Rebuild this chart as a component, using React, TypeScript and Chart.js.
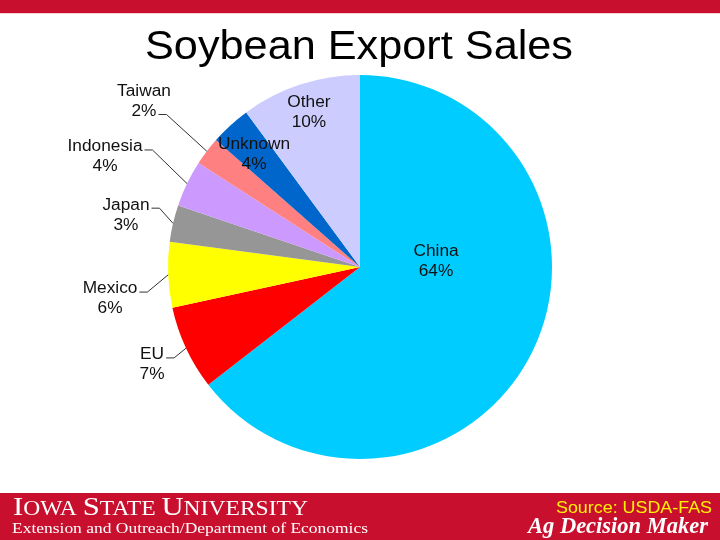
import React, { useEffect, useRef } from "react";
import { Chart, registerables } from "chart.js";

Chart.register(...registerables);

// ---- data ----
const categories = ["China", "EU", "Mexico", "Japan", "Indonesia", "Taiwan", "Unknown", "Other"];
const shares = [64.5, 7.1, 5.5, 3.1, 3.9, 2.4, 3.4, 10.1];
const pctLabels = ["64%", "7%", "6%", "3%", "4%", "2%", "4%", "10%"];
const colors = ["#00CCFF", "#FF0000", "#FFFF00", "#969696", "#CC99FF", "#FF8080", "#0066CC", "#CCCCFF"];

// ---- label layout (style): block centre offset from pie centre, in radius units ----
const labelOffsets: [number, number][] = [
  [0.396, -0.026],
  [-1.083, 0.51],
  [-1.302, 0.167],
  [-1.219, -0.27],
  [-1.328, -0.573],
  [-1.125, -0.862],
  [-0.552, -0.588],
  [-0.266, -0.802],
];
// which text line the leader line attaches to (null = no leader)
const leaderLine: (number | null)[] = [null, 0, 0, 0, 0, 1, null, null];

const RED = "#C8102E";
const STRETCH = 1.08;

function drawFitted(ctx: CanvasRenderingContext2D, text: string, x: number, y: number, width: number, align: "left" | "right" | "center") {
  const w = ctx.measureText(text).width;
  const s = width / w;
  ctx.save();
  ctx.translate(x, y);
  ctx.scale(s, 1);
  ctx.textAlign = "left";
  const ox = align === "right" ? -w : align === "center" ? -w / 2 : 0;
  ctx.fillText(text, ox, 0);
  ctx.restore();
}

function drawStretched(ctx: CanvasRenderingContext2D, text: string, cx: number, cy: number) {
  ctx.save();
  ctx.translate(cx, cy);
  ctx.scale(STRETCH, 1);
  ctx.textAlign = "center";
  ctx.textBaseline = "middle";
  ctx.fillText(text, 0, 0);
  ctx.restore();
}

const slidePlugin = {
  id: "slide",
  beforeDraw(chart: any) {
    const ctx = chart.ctx as CanvasRenderingContext2D;
    const W = chart.width;
    const H = chart.height;
    ctx.save();
    ctx.fillStyle = "#ffffff";
    ctx.fillRect(0, 0, W, H);
    ctx.fillStyle = RED;
    ctx.fillRect(0, 0, W, 13);
    ctx.fillStyle = "#F3D0D6";
    ctx.fillRect(0, 13, W, 1);
    ctx.fillStyle = RED;
    ctx.fillRect(0, 493, W, H - 493);
    ctx.restore();
  },
  afterDatasetsDraw(chart: any) {
    const ctx = chart.ctx as CanvasRenderingContext2D;
    const meta = chart.getDatasetMeta(0);
    ctx.save();
    ctx.font = "16px 'Liberation Sans', Arial, sans-serif";
    ctx.fillStyle = "#111111";
    meta.data.forEach((arc: any, i: number) => {
      const { x, y, startAngle, endAngle, outerRadius } = arc.getProps(["x", "y", "startAngle", "endAngle", "outerRadius"], true);
      const R = outerRadius;
      const bx = x + labelOffsets[i][0] * R;
      const by = y + labelOffsets[i][1] * R;
      const lines = [categories[i], pctLabels[i]];
      lines.forEach((t, li) => {
        drawStretched(ctx, t, bx, by + (li - 0.5) * 20);
      });
      const ll = leaderLine[i];
      if (ll !== null) {
        const w = ctx.measureText(lines[ll]).width * STRETCH;
        const sx = bx + w / 2 + 2;
        const sy = by + (ll - 0.5) * 20 + 3;
        const mid = (startAngle + endAngle) / 2;
        const ex = x + Math.cos(mid) * R;
        const ey = y + Math.sin(mid) * R;
        ctx.save();
        ctx.strokeStyle = "#333333";
        ctx.lineWidth = 1;
        ctx.beginPath();
        ctx.moveTo(sx, sy);
        ctx.lineTo(sx + 8, sy);
        ctx.lineTo(ex, ey);
        ctx.stroke();
        ctx.restore();
      }
    });
    ctx.restore();
  },
  afterDraw(chart: any) {
    const ctx = chart.ctx as CanvasRenderingContext2D;
    ctx.save();
    ctx.textBaseline = "alphabetic";
    // title
    ctx.fillStyle = "#000000";
    ctx.font = "40px 'Liberation Sans', Arial, sans-serif";
    drawFitted(ctx, "Soybean Export Sales", 359, 59, 428, "center");

    // IOWA STATE UNIVERSITY in small caps
    ctx.fillStyle = "#ffffff";
    const big = "26px 'Liberation Serif', 'Times New Roman', serif";
    const small = "20px 'Liberation Serif', 'Times New Roman', serif";
    const parts: [string, string][] = [
      ["I", big], ["OWA ", small], ["S", big], ["TATE ", small], ["U", big], ["NIVERSITY", small],
    ];
    let total = 0;
    const widths = parts.map(([t, f]) => {
      ctx.font = f;
      const w = ctx.measureText(t).width;
      total += w;
      return w;
    });
    const scale = 295 / total;
    ctx.save();
    ctx.translate(13, 515);
    ctx.scale(scale, 1);
    let px = 0;
    parts.forEach(([t, f], k) => {
      ctx.font = f;
      ctx.textAlign = "left";
      ctx.fillText(t, px, 0);
      px += widths[k];
    });
    ctx.restore();

    ctx.font = "15px 'Liberation Serif', 'Times New Roman', serif";
    drawFitted(ctx, "Extension and Outreach/Department of Economics", 12, 533, 356, "left");

    ctx.fillStyle = "#FFF200";
    ctx.font = "17px 'Liberation Sans', Arial, sans-serif";
    drawFitted(ctx, "Source: USDA-FAS", 712, 513, 156, "right");

    ctx.fillStyle = "#ffffff";
    ctx.font = "italic bold 24px 'Liberation Serif', 'Times New Roman', serif";
    drawFitted(ctx, "Ag Decision Maker", 708, 533, 180, "right");
    ctx.restore();
  },
};

export default function App() {
  const ref = useRef<HTMLCanvasElement | null>(null);
  useEffect(() => {
    document.body.style.margin = "0";
    const canvas = ref.current;
    if (!canvas) return;
    const chart = new Chart(canvas, {
      type: "pie",
      data: {
        labels: categories,
        datasets: [
          {
            data: shares,
            backgroundColor: colors,
            borderWidth: 0,
          },
        ],
      },
      options: {
        responsive: false,
        animation: false,
        devicePixelRatio: 1,
        layout: { padding: { top: 75, bottom: 81, left: 0, right: 0 } },
        plugins: {
          legend: { display: false },
          tooltip: { enabled: false },
          title: { display: false },
        },
      },
      plugins: [slidePlugin],
    });
    return () => chart.destroy();
  }, []);
  return (
    <div style={{ width: 720, height: 540 }}>
      <canvas ref={ref} width={720} height={540} style={{ display: "block" }} />
    </div>
  );
}
